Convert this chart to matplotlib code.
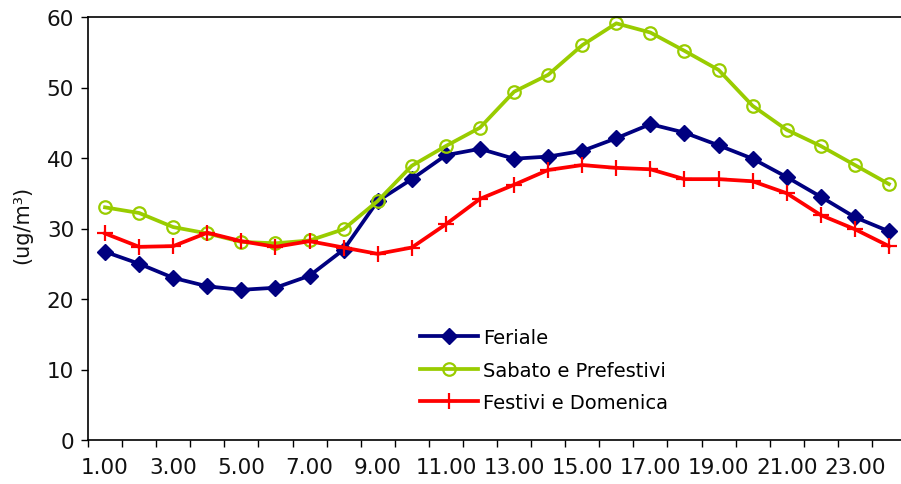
import numpy as np
import matplotlib
matplotlib.use("Agg")
import matplotlib.pyplot as plt

hours = np.arange(1, 25)
tick_labels = ["%d.00" % h for h in range(1, 24, 2)]

feriale = [26.7, 25.0, 23.0, 21.8, 21.3, 21.6, 23.3, 27.0, 33.9, 37.0, 40.4, 41.3,
           39.9, 40.2, 41.0, 42.8, 44.8, 43.6, 41.8, 39.9, 37.3, 34.5, 31.6, 29.6]
sabato = [33.0, 32.2, 30.2, 29.3, 28.1, 27.9, 28.3, 29.9, 33.9, 38.9, 41.7, 44.3,
          49.4, 51.8, 56.0, 59.1, 57.8, 55.2, 52.5, 47.4, 44.0, 41.7, 39.0, 36.3]
festivi = [29.3, 27.4, 27.5, 29.4, 28.2, 27.4, 28.2, 27.3, 26.4, 27.3, 30.6, 34.2,
           36.2, 38.3, 39.0, 38.6, 38.4, 37.0, 37.0, 36.7, 35.0, 31.9, 29.9, 27.5]

plt.rcParams['font.family'] = ['DejaVu Sans']

fig = plt.figure(figsize=(9.01, 4.85), dpi=100)
ax = fig.add_axes([88 / 901, 44 / 485, 818 / 901, 423 / 485])

navy = '#000080'
green = '#99CC00'
red = '#FF0000'

ax.plot(hours, feriale, color=navy, lw=2.7, marker='D', markersize=8.5,
        markerfacecolor=navy, markeredgecolor=navy, label='Feriale', clip_on=False)
ax.plot(hours, sabato, color=green, lw=2.7, marker='o', markersize=9,
        markerfacecolor='none', markeredgecolor=green, markeredgewidth=1.6,
        label='Sabato e Prefestivi', clip_on=False)
ax.plot(hours, festivi, color=red, lw=2.7, marker='+', markersize=12,
        markeredgewidth=1.6, label='Festivi e Domenica', clip_on=False)

ax.set_xlim(0.5, 24.5)
ax.set_ylim(0, 60)
ax.set_yticks(range(0, 61, 10))
ax.set_xticks(range(1, 24, 2))
ax.set_xticklabels(tick_labels)
ax.set_xticks(np.arange(0.5, 25, 1), minor=True)
ax.tick_params(axis='x', which='major', length=0, pad=12, labelsize=15.5)
ax.tick_params(axis='x', which='minor', length=5, width=1, direction='out')
ax.tick_params(axis='y', which='major', length=5, width=1, direction='out',
               pad=5, labelsize=15.5)
ax.tick_params(which='both', colors='black', labelcolor='#111111')

for s in ax.spines.values():
    s.set_color('black')
    s.set_linewidth(1.2)
ax.spines['right'].set_visible(False)

fig.text(22 / 901, 1 - 225 / 485, '(ug/m\u00b3)', rotation=90, ha='center', va='center',
         fontsize=15, color='#111111')

ax.legend(loc='upper left', bbox_to_anchor=((420 - 88) / 818, 1 - (329 - 18) / 423),
          frameon=False, fontsize=14, handlelength=3.0, handletextpad=0.25,
          labelspacing=0.7, borderaxespad=0, borderpad=0)

fig.savefig('out.png', dpi=100)
